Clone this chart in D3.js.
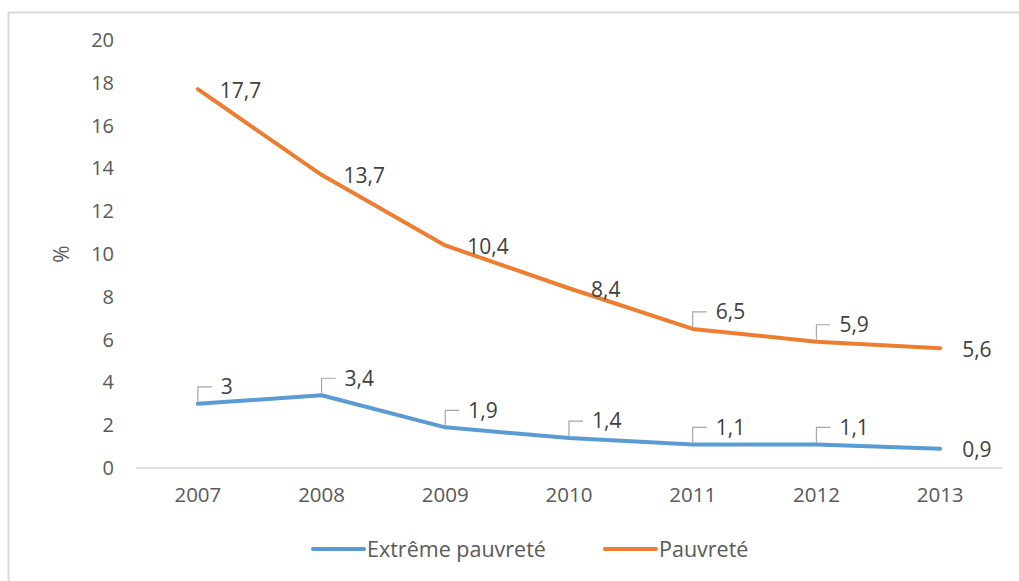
<!DOCTYPE html>
<html>
<head>
<meta charset="utf-8">
<script src="https://cdn.jsdelivr.net/npm/d3@7"></script>
<style>
  html, body { margin: 0; padding: 0; background: #fff; }
  svg { display: block; font-family: "Open Sans", sans-serif; }
</style>
</head>
<body>
<svg id="chart" width="1019" height="581"></svg>
<script>
// data
const years = ['2007', '2008', '2009', '2010', '2011', '2012', '2013'];
const extreme = [3, 3.4, 1.9, 1.4, 1.1, 1.1, 0.9];
const poverty = [17.7, 13.7, 10.4, 8.4, 6.5, 5.9, 5.6];
const yTicks = [0, 2, 4, 6, 8, 10, 12, 14, 16, 18, 20];
const seriesNames = ['Extrême pauvreté', 'Pauvreté'];
// which labels Excel pushed up with a small leader line
const extremeLeader = [true, true, true, true, true, true, false];
const povertyLeader = [false, false, false, false, true, true, false];

const svg = d3.select('#chart');
const W = 1019, H = 581;
const m = { left: 136, right: 17, top: 40, bottom: 113 };
const FONT = '"Open Sans", sans-serif';

// chart area border (light grey, cut off at right/bottom like the screenshot)
svg.append('rect').attr('x', 8.5).attr('y', 12.5).attr('width', W).attr('height', H)
    .attr('fill', 'none').attr('stroke', '#d9d9d9').attr('stroke-width', 2);

const x = d3.scaleBand().domain(years).range([m.left, W - m.right]);
const y = d3.scaleLinear().domain([0, 20]).range([H - m.bottom, m.top]);
const cx = d => x(d) + x.bandwidth() / 2;

// y axis labels only (no gridlines in the reference)
const yAxis = svg.append('g').attr('transform', `translate(${m.left - 22},0)`)
    .call(d3.axisLeft(y).tickValues(yTicks).tickSize(0).tickPadding(0).tickFormat(d3.format('d')));
yAxis.select('.domain').remove();
yAxis.selectAll('text').attr('fill', '#595959').attr('font-size', 20).attr('font-family', FONT);

// baseline
svg.append('line').attr('x1', m.left).attr('x2', W - m.right)
    .attr('y1', y(0)).attr('y2', y(0)).attr('stroke', '#d9d9d9').attr('stroke-width', 1.5);

const xAxis = svg.append('g').attr('transform', `translate(0,${y(0)})`)
    .call(d3.axisBottom(x).tickSize(0).tickPadding(19));
xAxis.select('.domain').remove();
xAxis.selectAll('text').attr('fill', '#595959').attr('font-size', 20.5).attr('font-family', FONT);

svg.append('text').attr('transform', `translate(69,${y(10)}) rotate(-90)`)
    .attr('text-anchor', 'middle').attr('fill', '#595959').attr('font-size', 21).text('%');

const fmt = v => String(v).replace('.', ',');
const line = d3.line().x((d, i) => cx(years[i])).y(d => y(d));

function drawSeries(vals, leaders, color) {
    svg.append('path').datum(vals).attr('d', line).attr('fill', 'none')
        .attr('stroke', color).attr('stroke-width', 4).attr('stroke-linejoin', 'round').attr('stroke-linecap', 'round');
    vals.forEach((v, i) => {
        const px = cx(years[i]), py = y(v);
        if (leaders[i]) {
            svg.append('path')
                .attr('d', `M${px},${py - 2}V${py - 17}H${px + 14}`)
                .attr('fill', 'none').attr('stroke', '#a6a6a6').attr('stroke-width', 1.2);
            svg.append('text').attr('x', px + 23).attr('y', py - 17).attr('dy', '0.35em')
                .attr('fill', '#404040').attr('font-size', 21).text(fmt(v));
        } else {
            svg.append('text').attr('x', px + 22).attr('y', py + 1).attr('dy', '0.35em')
                .attr('fill', '#404040').attr('font-size', 21).text(fmt(v));
        }
    });
}
drawSeries(poverty, povertyLeader, '#ED7D31');
drawSeries(extreme, extremeLeader, '#5B9BD5');

// legend
const legendX = [313, 605], legendColors = ['#5B9BD5', '#ED7D31'];
seriesNames.forEach((name, i) => {
    const g = svg.append('g').attr('transform', `translate(${legendX[i]},549)`);
    g.append('line').attr('x1', 0).attr('x2', 51).attr('stroke', legendColors[i])
        .attr('stroke-width', 4).attr('stroke-linecap', 'round');
    g.append('text').attr('x', 54).attr('dy', '0.35em').attr('fill', '#595959')
        .attr('font-size', 21.5).text(name);
});
</script>
</body>
</html>
